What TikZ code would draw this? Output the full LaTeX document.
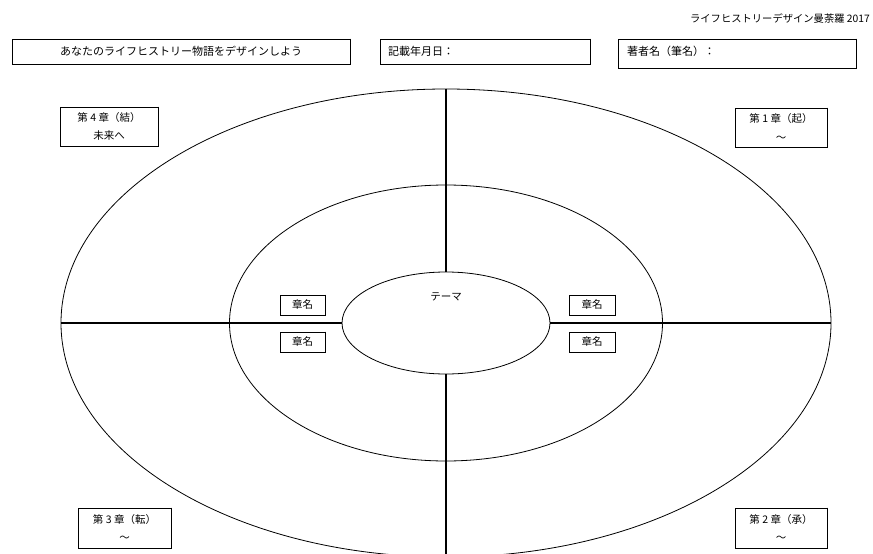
\documentclass[tikz,border=0pt]{standalone}
\usepackage{fontspec}
\setmainfont{Noto Sans CJK JP}
\usetikzlibrary{shapes.geometric}
\tikzset{
  ring/.style={draw, ellipse, inner sep=0pt, line width=0.8pt},
  divider/.style={line width=1.3pt},
  frame/.style={draw, rectangle, inner sep=0pt, line width=0.6pt},
  shade/.style={line width=1.2pt},
  lbl/.style={inner sep=0pt, font=\fontsize{11}{13}\selectfont},
  chap/.style={frame, align=center, font=\fontsize{10.5}{18.5}\selectfont}
}
\begin{document}
\begin{tikzpicture}[x=1pt,y=-1pt]
\useasboundingbox (0,0) rectangle (873,554);
\clip (0,0) rectangle (873,554);
\fill[white] (0,0) rectangle (873,554);

% header
\node[lbl, anchor=east, font=\fontsize{10.3}{12}\selectfont] (hdr) at (870,19) {ライフヒストリーデザイン曼荼羅 2017};

% top boxes
\node[frame, minimum width=338pt, minimum height=25pt] (title) at (181,51.5) {};
\node[lbl] (titletext) at (181,51) {あなたのライフヒストリー物語をデザインしよう};
\node[frame, minimum width=210pt, minimum height=25pt] (date) at (485,51.5) {};
\node[lbl, anchor=west] (datetext) at (388,51) {記載年月日：};
\node[frame, minimum width=238pt, minimum height=29pt] (author) at (737,53.5) {};
\node[lbl, anchor=west] (authortext) at (627,51.5) {著者名（筆名）：};

% ellipses
\node[ring, minimum width=770pt, minimum height=468pt] (outer) at (446,323) {};
\node[ring, minimum width=433pt, minimum height=276pt] (middle) at (446,323) {};
\node[ring, minimum width=208pt, minimum height=102pt] (inner) at (446,323) {};

% dividers
\draw[divider] (outer.north) -- (inner.north);
\draw[divider] (inner.south) -- (outer.south);
\draw[divider] (outer.west) -- (inner.west);
\draw[divider] (inner.east) -- (outer.east);

\node[lbl, font=\fontsize{10.5}{12}\selectfont] (theme) at (446,297) {テーマ};

% chapter name boxes
\node[frame, lbl, font=\fontsize{10.5}{12}\selectfont, minimum width=45pt, minimum height=20pt] (n1) at (302.5,305) {章名};
\node[frame, lbl, font=\fontsize{10.5}{12}\selectfont, minimum width=45pt, minimum height=20pt] (n2) at (302.5,342) {章名};
\node[frame, lbl, font=\fontsize{10.5}{12}\selectfont, minimum width=46pt, minimum height=20pt] (n3) at (592,305) {章名};
\node[frame, lbl, font=\fontsize{10.5}{12}\selectfont, minimum width=46pt, minimum height=20pt] (n4) at (592,342) {章名};

% chapter boxes
\node[chap, minimum width=98pt, minimum height=39pt] (c4) at (109,126.5) {第 4 章（結）\\未来へ};
\node[chap, minimum width=92pt, minimum height=39pt] (c1) at (781,127.5) {第 1 章（起）\\〜};
\node[chap, minimum width=93pt, minimum height=40pt] (c3) at (124.5,528) {第 3 章（転）\\〜};
\node[chap, minimum width=92pt, minimum height=40pt] (c2) at (781,528) {第 2 章（承）\\〜};

% box shading on right/bottom edges
\foreach \b in {title,date,author,n1,n2,n3,n4,c1,c2,c3,c4}{
  \draw[shade] (\b.north east) -- (\b.south east) -- (\b.south west);
}
\end{tikzpicture}
\end{document}
